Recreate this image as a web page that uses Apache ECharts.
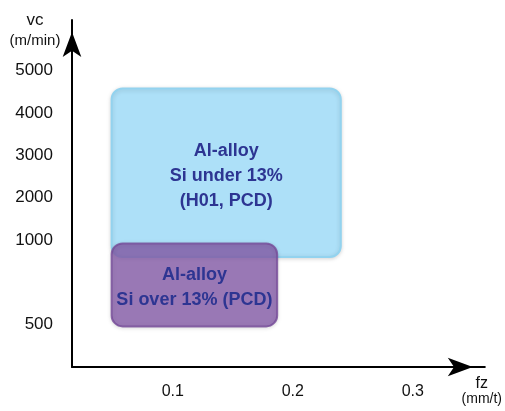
<!DOCTYPE html>
<html>
<head>
<meta charset="utf-8">
<script src="https://cdn.jsdelivr.net/npm/echarts@6/dist/echarts.min.js"></script>
<style>html,body{margin:0;padding:0;background:#fff}#c{width:505px;height:411px}</style>
</head>
<body>
<div id="c"></div>
<script>
var regionNames = ['Al-alloy\nSi under 13%\n(H01, PCD)', 'Al-alloy\nSi over 13% (PCD)'];
var fzMin = [0.049, 0.049];
var fzMax = [0.24, 0.187];
var vcMin = [900, 490];
var vcMax = [4580, 980];
var regionFill = ['#ade0f8', 'rgba(132,90,168,0.78)'];
var regionStroke = ['#93d3ef', 'rgba(118,75,152,0.8)'];
var yTicks = [5000, 4000, 3000, 2000, 1000, 500];
var xTicks = [0.1, 0.2, 0.3];

// broken vc scale: above 1000 each 1000 m/min is one unit, below 1000 each 250 m/min is one unit
function toU(v) { return v >= 1000 ? (v - 1000) / 1000 : (v - 1000) / 250; }
function fromU(u) { return u >= 0 ? Math.round(1000 + u * 1000) : Math.round(1000 + u * 250); }

var data = regionNames.map(function (n, i) {
  return { value: [fzMin[i], fzMax[i], toU(vcMin[i]), toU(vcMax[i])], name: n };
});

var chart = echarts.init(document.getElementById('c'));
var font = 'Liberation Sans';
chart.setOption({
  animation: false,
  grid: { left: 72, right: 20, top: 20, bottom: 44, containLabel: false },
  xAxis: {
    type: 'value', min: 0.016, max: 0.36,
    axisLine: { show: true, onZero: false, lineStyle: { color: '#000', width: 2 }, symbol: ['none', 'arrow'], symbolSize: [14, 25], symbolOffset: [0, -12] },
    axisTick: { show: false },
    splitLine: { show: false },
    axisLabel: { customValues: xTicks, margin: 17, color: '#111', fontSize: 16, fontFamily: font, formatter: function (v) { return String(v); } },
    name: '{a|fz}\n{b|(mm/t)}', nameLocation: 'end', nameGap: -3,
    nameTextStyle: { align: 'center', verticalAlign: 'top', padding: [9, 0, 0, 0],
      rich: { a: { fontSize: 16, fontFamily: font, color: '#111', align: 'center', lineHeight: 16 }, b: { fontSize: 14, fontFamily: font, color: '#111', align: 'center', lineHeight: 15 } } }
  },
  yAxis: {
    type: 'value', min: -3, max: 5.2,
    axisLine: { show: true, onZero: false, lineStyle: { color: '#000', width: 2 }, symbol: ['none', 'arrow'], symbolSize: [14, 25], symbolOffset: [0, -12] },
    axisTick: { show: false },
    splitLine: { show: false },
    axisLabel: { customValues: yTicks.map(toU), margin: 19, color: '#111', fontSize: 17, fontFamily: font, formatter: function (u) { return String(fromU(u)); } },
    name: '{a|vc}\n{b|(m/min)}', nameLocation: 'end', nameGap: -29,
    nameTextStyle: { align: 'center', verticalAlign: 'bottom', padding: [0, 74, 0, 0],
      rich: { a: { fontSize: 17, fontFamily: font, color: '#111', align: 'center', lineHeight: 24 }, b: { fontSize: 15, fontFamily: font, color: '#111', align: 'center', lineHeight: 17 } } }
  },
  series: [{
    type: 'custom',
    encode: { x: [0, 1], y: [2, 3] },
    data: data,
    renderItem: function (params, api) {
      var i = params.dataIndex;
      var p0 = api.coord([api.value(0), api.value(3)]);
      var p1 = api.coord([api.value(1), api.value(2)]);
      var w = p1[0] - p0[0], h = p1[1] - p0[1];
      return {
        type: 'group',
        children: [{
          type: 'rect',
          shape: { x: p0[0], y: p0[1], width: w, height: h, r: 11 },
          style: { fill: regionFill[i], stroke: regionStroke[i], lineWidth: 2, shadowBlur: 4, shadowColor: 'rgba(0,0,0,0.15)', shadowOffsetY: 1 }
        }, {
          type: 'text',
          style: { text: regionNames[i], x: p0[0] + w / 2, y: p0[1] + h / 2 + 3, align: 'center', verticalAlign: 'middle',
            fontSize: 18, fontWeight: 'bold', fontFamily: font, fill: '#2d3592', lineHeight: 25 }
        }]
      };
    }
  }]
});
</script>
</body>
</html>
